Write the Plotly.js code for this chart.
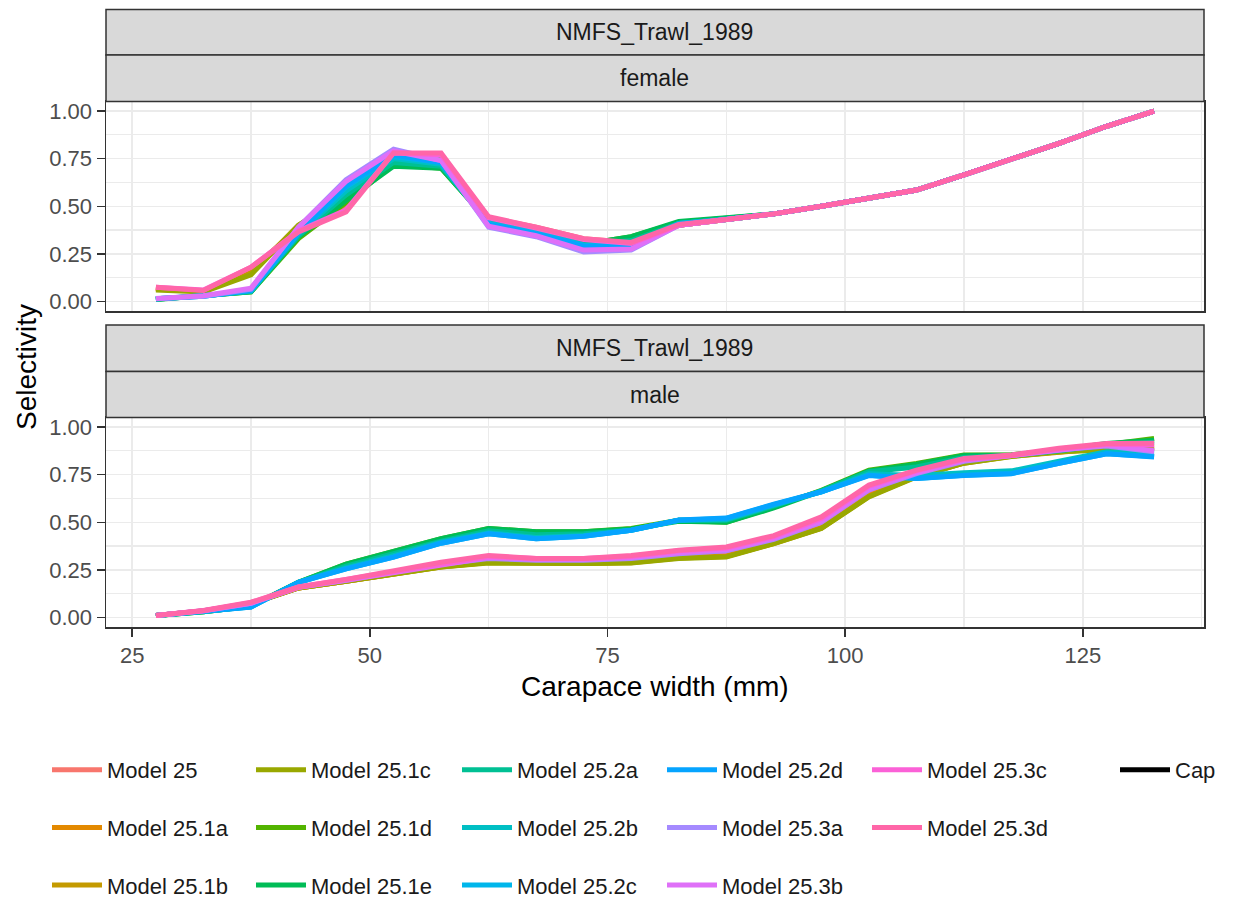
<!DOCTYPE html>
<html>
<head>
<meta charset="utf-8">
<script src="https://cdn.plot.ly/plotly-3.0.1.min.js"></script>
<style>html,body{margin:0;padding:0;background:#fff;}#chart{width:1233px;height:899px;}</style>
</head>
<body>
<div id="chart"></div>
<script>
// ---- data ----
const carapaceWidth = [27.5,32.5,37.5,42.5,47.5,52.5,57.5,62.5,67.5,72.5,77.5,82.5,87.5,92.5,97.5,102.5,107.5,112.5,117.5,122.5,127.5,132.5];

const modelNames = ["Model 25","Model 25.1a","Model 25.1b","Model 25.1c","Model 25.1d","Model 25.1e","Model 25.2a","Model 25.2b","Model 25.2c","Model 25.2d","Model 25.3a","Model 25.3b","Model 25.3c","Model 25.3d"];

// female selectivity
const femM25   = [0.070,0.055,0.170,0.380,0.500,0.770,0.770,0.440,0.390,0.330,0.310,0.400,0.430,0.460,0.500,0.540,0.585,0.665,0.745,0.830,0.920,1.000];
const femM251a = [0.070,0.055,0.160,0.390,0.530,0.770,0.760,0.440,0.385,0.320,0.300,0.400,0.430,0.460,0.500,0.540,0.585,0.665,0.745,0.830,0.920,1.000];
const femM251b = [0.065,0.055,0.150,0.400,0.550,0.760,0.760,0.430,0.380,0.320,0.300,0.400,0.430,0.460,0.500,0.540,0.585,0.665,0.745,0.830,0.920,1.000];
const femM251c = [0.060,0.050,0.140,0.400,0.560,0.750,0.750,0.430,0.380,0.310,0.300,0.400,0.430,0.460,0.500,0.540,0.585,0.665,0.745,0.830,0.920,1.000];
const femM251d = [0.012,0.030,0.050,0.330,0.520,0.720,0.700,0.420,0.370,0.300,0.340,0.415,0.440,0.460,0.500,0.540,0.585,0.665,0.745,0.830,0.920,1.000];
const femM251e = [0.010,0.028,0.050,0.340,0.530,0.710,0.700,0.420,0.370,0.300,0.340,0.420,0.440,0.460,0.500,0.540,0.585,0.665,0.745,0.830,0.920,1.000];
const femM252a = [0.012,0.030,0.052,0.345,0.560,0.730,0.710,0.415,0.365,0.300,0.320,0.410,0.435,0.460,0.500,0.540,0.585,0.665,0.745,0.830,0.920,1.000];
const femM252b = [0.014,0.030,0.055,0.355,0.580,0.750,0.720,0.410,0.360,0.295,0.300,0.410,0.430,0.460,0.500,0.540,0.585,0.665,0.745,0.830,0.920,1.000];
const femM252c = [0.014,0.028,0.058,0.360,0.600,0.760,0.730,0.410,0.360,0.295,0.290,0.410,0.430,0.460,0.500,0.540,0.585,0.665,0.745,0.830,0.920,1.000];
const femM252d = [0.014,0.028,0.058,0.360,0.610,0.770,0.730,0.405,0.355,0.290,0.285,0.405,0.430,0.460,0.500,0.540,0.585,0.665,0.745,0.830,0.920,1.000];
const femM253a = [0.014,0.028,0.065,0.390,0.640,0.800,0.740,0.390,0.340,0.260,0.270,0.400,0.430,0.460,0.500,0.540,0.585,0.665,0.745,0.830,0.920,1.000];
const femM253b = [0.016,0.030,0.070,0.390,0.630,0.790,0.740,0.395,0.345,0.270,0.275,0.400,0.430,0.460,0.500,0.540,0.585,0.665,0.745,0.830,0.920,1.000];
const femM253c = [0.075,0.060,0.180,0.370,0.480,0.780,0.770,0.440,0.385,0.325,0.305,0.400,0.430,0.460,0.500,0.540,0.585,0.665,0.745,0.830,0.920,1.000];
const femM253d = [0.075,0.058,0.180,0.365,0.470,0.780,0.780,0.445,0.390,0.330,0.310,0.405,0.430,0.460,0.500,0.540,0.585,0.665,0.745,0.830,0.920,1.000];

// male selectivity
const malM25   = [0.010,0.034,0.074,0.155,0.190,0.230,0.270,0.295,0.290,0.290,0.295,0.320,0.330,0.395,0.475,0.645,0.745,0.815,0.850,0.875,0.895,0.895];
const malM251a = [0.010,0.034,0.073,0.155,0.190,0.228,0.266,0.290,0.285,0.285,0.290,0.315,0.322,0.390,0.470,0.638,0.740,0.812,0.848,0.872,0.890,0.890];
const malM251b = [0.010,0.034,0.073,0.155,0.190,0.228,0.265,0.288,0.284,0.284,0.288,0.312,0.320,0.388,0.468,0.635,0.740,0.810,0.846,0.870,0.888,0.890];
const malM251c = [0.010,0.034,0.072,0.155,0.190,0.230,0.265,0.286,0.283,0.283,0.286,0.310,0.317,0.388,0.467,0.633,0.738,0.810,0.845,0.870,0.880,0.890];
const malM251d = [0.010,0.030,0.060,0.185,0.280,0.350,0.414,0.467,0.450,0.450,0.467,0.510,0.500,0.580,0.668,0.774,0.809,0.853,0.855,0.875,0.910,0.940];
const malM251e = [0.010,0.030,0.060,0.185,0.280,0.350,0.414,0.467,0.450,0.450,0.465,0.505,0.500,0.575,0.665,0.770,0.805,0.850,0.853,0.880,0.914,0.930];
const malM252a = [0.010,0.030,0.058,0.185,0.270,0.335,0.400,0.455,0.435,0.440,0.460,0.510,0.510,0.585,0.665,0.765,0.790,0.840,0.850,0.875,0.905,0.920];
const malM252b = [0.010,0.030,0.056,0.185,0.260,0.325,0.395,0.445,0.420,0.430,0.458,0.510,0.515,0.590,0.660,0.755,0.745,0.760,0.770,0.820,0.870,0.860];
const malM252c = [0.010,0.030,0.055,0.185,0.255,0.317,0.390,0.440,0.414,0.426,0.458,0.510,0.520,0.593,0.660,0.747,0.730,0.747,0.756,0.810,0.860,0.845];
const malM252d = [0.010,0.030,0.055,0.185,0.255,0.317,0.390,0.440,0.414,0.426,0.458,0.512,0.522,0.595,0.660,0.745,0.730,0.745,0.755,0.810,0.860,0.843];
const malM253a = [0.010,0.035,0.075,0.158,0.195,0.235,0.280,0.310,0.300,0.300,0.310,0.335,0.350,0.410,0.500,0.670,0.755,0.820,0.850,0.880,0.900,0.870];
const malM253b = [0.010,0.035,0.075,0.158,0.195,0.235,0.280,0.315,0.305,0.305,0.315,0.340,0.355,0.415,0.505,0.675,0.760,0.825,0.850,0.880,0.905,0.875];
const malM253c = [0.010,0.036,0.078,0.160,0.200,0.240,0.285,0.320,0.310,0.310,0.320,0.350,0.365,0.425,0.520,0.690,0.770,0.830,0.850,0.885,0.910,0.905];
const malM253d = [0.010,0.037,0.080,0.160,0.200,0.245,0.290,0.326,0.310,0.310,0.326,0.353,0.370,0.430,0.528,0.695,0.774,0.835,0.853,0.888,0.914,0.915];

const femaleSeries = [femM25,femM251a,femM251b,femM251c,femM251d,femM251e,femM252a,femM252b,femM252c,femM252d,femM253a,femM253b,femM253c,femM253d];
const maleSeries   = [malM25,malM251a,malM251b,malM251c,malM251d,malM251e,malM252a,malM252b,malM252c,malM252d,malM253a,malM253b,malM253c,malM253d];

const yTicks = [0,0.25,0.5,0.75,1];
const xTicks = [25,50,75,100,125];
const stripTop = "NMFS_Trawl_1989";
const sexLabels = ["female","male"];
const capLabel = "Cap";

// ---- styling ----
const colors = ["#F8766D","#E38900","#C49A00","#99A800","#53B400","#00BC56","#00C094","#00BFC4","#00B6EB","#06A4FF","#A58AFF","#DF70F8","#FB61D7","#FF66A8"];
const legendOf = ["legend","legend","legend","legend2","legend2","legend2","legend3","legend3","legend3","legend4","legend4","legend4","legend5","legend5"];
const W = 1233, H = 899;
const px = v => v / W;
const py = v => 1 - v / H;
const FONT = "Liberation Sans, Arial, sans-serif";

const traces = [];
modelNames.forEach((name, i) => {
  traces.push({
    x: carapaceWidth, y: femaleSeries[i], name: name, type: "scatter", mode: "lines",
    xaxis: "x", yaxis: "y", line: {color: colors[i], width: 5},
    legend: legendOf[i], legendgroup: name, showlegend: true, hoverinfo: "skip"
  });
});
modelNames.forEach((name, i) => {
  traces.push({
    x: carapaceWidth, y: maleSeries[i], name: name, type: "scatter", mode: "lines",
    xaxis: "x2", yaxis: "y2", line: {color: colors[i], width: 5},
    legend: legendOf[i], legendgroup: name, showlegend: false, hoverinfo: "skip"
  });
});
// "Cap" series has no visible values in this panel; legend entry only
traces.push({x: [null], y: [null], name: capLabel, type: "scatter", mode: "lines", xaxis: "x2", yaxis: "y2",
  line: {color: "#000000", width: 5}, legend: "legend6", legendgroup: capLabel, showlegend: true, hoverinfo: "skip"});

const xDomain = [px(106), px(1204)];
const xCommon = {
  domain: xDomain, range: [22.25, 137.75], tickvals: xTicks, showgrid: true,
  gridcolor: "#EBEBEB", gridwidth: 1.5, zeroline: false,
  showline: true, mirror: true, linecolor: "#333333", linewidth: 1.5,
  minor: {dtick: 12.5, tick0: 25, showgrid: true, gridcolor: "#EBEBEB", gridwidth: 1.2},
  tickfont: {family: FONT, size: 22, color: "#4D4D4D"}
};
const yCommon = {
  range: [-0.05, 1.05], tickvals: yTicks, tickformat: ".2f", showgrid: true,
  gridcolor: "#EBEBEB", gridwidth: 1.5, zeroline: false,
  showline: true, mirror: true, linecolor: "#333333", linewidth: 1.5,
  ticks: "outside", ticklen: 8, tickwidth: 1.5, tickcolor: "#333333",
  minor: {dtick: 0.125, tick0: 0, showgrid: true, gridcolor: "#EBEBEB", gridwidth: 1.2},
  tickfont: {family: FONT, size: 22, color: "#4D4D4D"}, automargin: false
};

function legendAt(textX) {
  return {x: px(textX - 60), xanchor: "left", y: py(749), yanchor: "top", orientation: "v",
    itemwidth: 50,
    font: {family: FONT, size: 22, color: "#1A1A1A"}, tracegroupgap: 26, bgcolor: "rgba(0,0,0,0)"};
}

const stripBoxes = [[9.5,55],[55,101.5],[325,371.5],[371.5,417.5]];
const shapes = stripBoxes.map(b => ({
  type: "rect", xref: "paper", yref: "paper", x0: xDomain[0], x1: xDomain[1], y0: py(b[1]), y1: py(b[0]),
  fillcolor: "#D9D9D9", line: {color: "#333333", width: 1.5}, layer: "above"
}));
const stripTexts = [stripTop, sexLabels[0], stripTop, sexLabels[1]];
const annotations = stripBoxes.map((b, i) => ({
  text: stripTexts[i], xref: "paper", yref: "paper", x: (xDomain[0] + xDomain[1]) / 2, y: py((b[0] + b[1]) / 2),
  xanchor: "center", yanchor: "middle", showarrow: false, font: {family: FONT, size: 23, color: "#1A1A1A"}
}));
annotations.push({text: "Selectivity", xref: "paper", yref: "paper", x: px(26), y: py(367), textangle: -90,
  xanchor: "center", yanchor: "middle", showarrow: false, font: {family: FONT, size: 28, color: "#000000"}});
annotations.push({text: "Carapace width (mm)", xref: "paper", yref: "paper", x: px(655), y: py(686),
  xanchor: "center", yanchor: "middle", showarrow: false, font: {family: FONT, size: 28, color: "#000000"}});

const layout = {
  width: W, height: H, margin: {l: 0, r: 0, t: 0, b: 0, autoexpand: false},
  paper_bgcolor: "#FFFFFF", plot_bgcolor: "#FFFFFF", showlegend: true,
  xaxis: Object.assign({}, xCommon, {anchor: "y", showticklabels: false, ticks: "", matches: "x2"}),
  xaxis2: Object.assign({}, xCommon, {anchor: "y2", ticks: "outside", ticklen: 8, tickwidth: 1.5, tickcolor: "#333333"}),
  yaxis: Object.assign({}, yCommon, {domain: [py(311), py(101.5)], anchor: "x"}),
  yaxis2: Object.assign({}, yCommon, {domain: [py(627), py(417.5)], anchor: "x2"}),
  legend: legendAt(107), legend2: legendAt(311), legend3: legendAt(517),
  legend4: legendAt(722), legend5: legendAt(927), legend6: legendAt(1175),
  shapes: shapes, annotations: annotations
};

Plotly.newPlot("chart", traces, layout, {displayModeBar: false, staticPlot: true});
</script>
</body>
</html>
